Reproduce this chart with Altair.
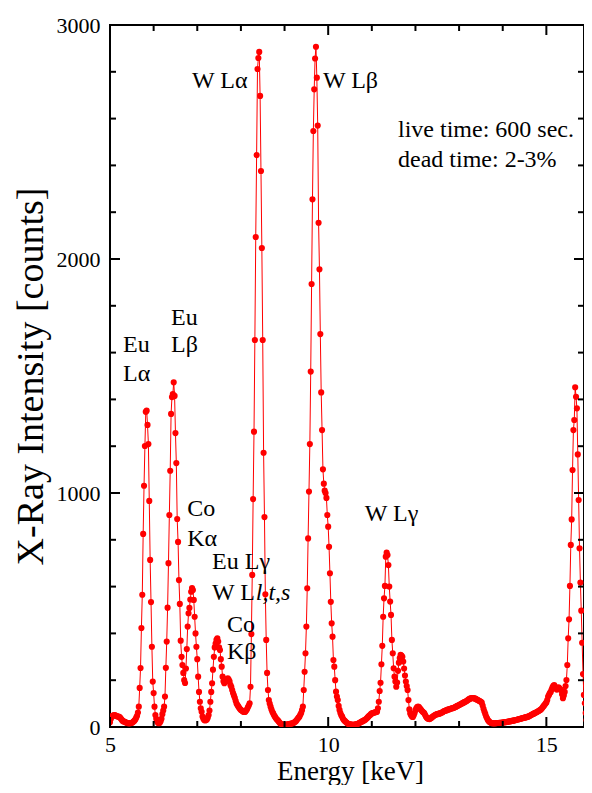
import altair as alt
import pandas as pd

# ---------------- data ----------------
energy_keV = [
    5.00, 5.02, 5.04, 5.06, 5.08, 5.10, 5.12, 5.14, 5.16, 5.18,
    5.20, 5.22, 5.24, 5.26, 5.28, 5.30, 5.32, 5.34, 5.36, 5.38,
    5.40, 5.42, 5.44, 5.46, 5.48, 5.50, 5.52, 5.54, 5.56, 5.58,
    5.60, 5.62, 5.64, 5.66, 5.68, 5.70, 5.72, 5.74, 5.76, 5.78,
    5.80, 5.82, 5.84, 5.86, 5.88, 5.90, 5.92, 5.94, 5.96, 5.98,
    6.00, 6.02, 6.04, 6.06, 6.08, 6.10, 6.12, 6.14, 6.16, 6.18,
    6.20, 6.22, 6.24, 6.26, 6.28, 6.30, 6.32, 6.34, 6.36, 6.38,
    6.40, 6.42, 6.44, 6.46, 6.48, 6.50, 6.52, 6.54, 6.56, 6.58,
    6.60, 6.62, 6.64, 6.66, 6.68, 6.70, 6.72, 6.74, 6.76, 6.78,
    6.80, 6.82, 6.84, 6.86, 6.88, 6.90, 6.92, 6.94, 6.96, 6.98,
    7.00, 7.02, 7.04, 7.06, 7.08, 7.10, 7.12, 7.14, 7.16, 7.18,
    7.20, 7.22, 7.24, 7.26, 7.28, 7.30, 7.32, 7.34, 7.36, 7.38,
    7.40, 7.42, 7.44, 7.46, 7.48, 7.50, 7.52, 7.54, 7.56, 7.58,
    7.60, 7.62, 7.64, 7.66, 7.68, 7.70, 7.72, 7.74, 7.76, 7.78,
    7.80, 7.82, 7.84, 7.86, 7.88, 7.90, 7.92, 7.94, 7.96, 7.98,
    8.00, 8.02, 8.04, 8.06, 8.08, 8.10, 8.12, 8.14, 8.16, 8.18,
    8.20, 8.22, 8.24, 8.26, 8.28, 8.30, 8.32, 8.34, 8.36, 8.38,
    8.40, 8.42, 8.44, 8.46, 8.48, 8.50, 8.52, 8.54, 8.56, 8.58,
    8.60, 8.62, 8.64, 8.66, 8.68, 8.70, 8.72, 8.74, 8.76, 8.78,
    8.80, 8.82, 8.84, 8.86, 8.88, 8.90, 8.92, 8.94, 8.96, 8.98,
    9.00, 9.02, 9.04, 9.06, 9.08, 9.10, 9.12, 9.14, 9.16, 9.18,
    9.20, 9.22, 9.24, 9.26, 9.28, 9.30, 9.32, 9.34, 9.36, 9.38,
    9.40, 9.42, 9.44, 9.46, 9.48, 9.50, 9.52, 9.54, 9.56, 9.58,
    9.60, 9.62, 9.64, 9.66, 9.68, 9.70, 9.72, 9.74, 9.76, 9.78,
    9.80, 9.82, 9.84, 9.86, 9.88, 9.90, 9.92, 9.94, 9.96, 9.98,
    10.00, 10.02, 10.04, 10.06, 10.08, 10.10, 10.12, 10.14, 10.16, 10.18,
    10.20, 10.22, 10.24, 10.26, 10.28, 10.30, 10.32, 10.34, 10.36, 10.38,
    10.40, 10.42, 10.44, 10.46, 10.48, 10.50, 10.52, 10.54, 10.56, 10.58,
    10.60, 10.62, 10.64, 10.66, 10.68, 10.70, 10.72, 10.74, 10.76, 10.78,
    10.80, 10.82, 10.84, 10.86, 10.88, 10.90, 10.92, 10.94, 10.96, 10.98,
    11.00, 11.02, 11.04, 11.06, 11.08, 11.10, 11.12, 11.14, 11.16, 11.18,
    11.20, 11.22, 11.24, 11.26, 11.28, 11.30, 11.32, 11.34, 11.36, 11.38,
    11.40, 11.42, 11.44, 11.46, 11.48, 11.50, 11.52, 11.54, 11.56, 11.58,
    11.60, 11.62, 11.64, 11.66, 11.68, 11.70, 11.72, 11.74, 11.76, 11.78,
    11.80, 11.82, 11.84, 11.86, 11.88, 11.90, 11.92, 11.94, 11.96, 11.98,
    12.00, 12.02, 12.04, 12.06, 12.08, 12.10, 12.12, 12.14, 12.16, 12.18,
    12.20, 12.22, 12.24, 12.26, 12.28, 12.30, 12.32, 12.34, 12.36, 12.38,
    12.40, 12.42, 12.44, 12.46, 12.48, 12.50, 12.52, 12.54, 12.56, 12.58,
    12.60, 12.62, 12.64, 12.66, 12.68, 12.70, 12.72, 12.74, 12.76, 12.78,
    12.80, 12.82, 12.84, 12.86, 12.88, 12.90, 12.92, 12.94, 12.96, 12.98,
    13.00, 13.02, 13.04, 13.06, 13.08, 13.10, 13.12, 13.14, 13.16, 13.18,
    13.20, 13.22, 13.24, 13.26, 13.28, 13.30, 13.32, 13.34, 13.36, 13.38,
    13.40, 13.42, 13.44, 13.46, 13.48, 13.50, 13.52, 13.54, 13.56, 13.58,
    13.60, 13.62, 13.64, 13.66, 13.68, 13.70, 13.72, 13.74, 13.76, 13.78,
    13.80, 13.82, 13.84, 13.86, 13.88, 13.90, 13.92, 13.94, 13.96, 13.98,
    14.00, 14.02, 14.04, 14.06, 14.08, 14.10, 14.12, 14.14, 14.16, 14.18,
    14.20, 14.22, 14.24, 14.26, 14.28, 14.30, 14.32, 14.34, 14.36, 14.38,
    14.40, 14.42, 14.44, 14.46, 14.48, 14.50, 14.52, 14.54, 14.56, 14.58,
    14.60, 14.62, 14.64, 14.66, 14.68, 14.70, 14.72, 14.74, 14.76, 14.78,
    14.80, 14.82, 14.84, 14.86, 14.88, 14.90, 14.92, 14.94, 14.96, 14.98,
    15.00, 15.02, 15.04, 15.06, 15.08, 15.10, 15.12, 15.14, 15.16, 15.18,
    15.20, 15.22, 15.24, 15.26, 15.28, 15.30, 15.32, 15.34, 15.36, 15.38,
    15.40, 15.42, 15.44, 15.46, 15.48, 15.50, 15.52, 15.54, 15.56, 15.58,
    15.60, 15.62, 15.64, 15.66, 15.68, 15.70, 15.72, 15.74, 15.76, 15.78,
    15.80, 15.82, 15.84, 15.86, 15.88, 15.90, 15.92, 15.94, 15.96, 15.98,
    16.00,
]

counts = [
    20, 35, 44, 48, 50, 51, 50, 48, 46, 45,
    44, 42, 38, 33, 28, 25, 23, 22, 20, 18,
    17, 16, 16, 16, 17, 18, 20, 23, 27, 32,
    40, 48, 62, 87, 167, 252, 423, 565, 825, 1031,
    1201, 1347, 1352, 1291, 1209, 966, 714, 534, 343, 194,
    145, 87, 51, 35, 23, 18, 16, 18, 25, 35,
    55, 70, 87, 130, 253, 365, 510, 700, 906, 1095,
    1338, 1410, 1423, 1473, 1415, 1256, 1128, 889, 791, 628,
    526, 369, 300, 265, 231, 200, 188, 250, 333, 429,
    486, 509, 545, 578, 594, 585, 543, 471, 400, 343,
    290, 215, 150, 108, 80, 65, 45, 35, 30, 28,
    30, 32, 40, 51, 70, 108, 150, 187, 245, 300,
    340, 357, 372, 379, 365, 340, 329, 290, 258, 215,
    195, 187, 192, 198, 205, 208, 203, 195, 180, 172,
    158, 145, 135, 125, 112, 100, 94, 88, 82, 77,
    73, 70, 67, 65, 64, 65, 70, 76, 84, 92,
    101, 172, 397, 650, 974, 1262, 1654, 2094, 2444, 2812,
    2859, 2885, 2697, 2376, 2047, 1654, 1172, 897, 567, 372,
    231, 158, 115, 100, 87, 75, 65, 58, 50, 44,
    38, 33, 30, 25, 20, 16, 13, 11, 10, 9,
    9, 9, 10, 10, 11, 12, 13, 14, 15, 16,
    17, 19, 22, 25, 30, 35, 40, 44, 52, 60,
    72, 87, 158, 236, 315, 429, 593, 806, 1006, 1209,
    1519, 1893, 2255, 2547, 2725, 2857, 2907, 2775, 2570, 2155,
    1956, 1679, 1430, 1269, 1101, 1040, 1010, 1000, 979, 906,
    856, 770, 657, 535, 443, 386, 286, 258, 200, 151,
    130, 115, 90, 73, 60, 50, 44, 35, 30, 26,
    22, 19, 16, 14, 12, 11, 10, 10, 9, 9,
    10, 10, 11, 12, 14, 16, 18, 20, 22, 24,
    26, 28, 30, 33, 36, 40, 44, 48, 51, 55,
    58, 60, 61, 62, 63, 64, 65, 80, 108, 154,
    189, 268, 347, 471, 550, 603, 728, 745, 735, 692,
    600, 536, 479, 372, 315, 251, 215, 194, 172, 190,
    240, 275, 295, 308, 305, 300, 280, 250, 220, 194,
    175, 158, 115, 75, 58, 50, 45, 43, 50, 60,
    72, 80, 85, 87, 85, 80, 75, 70, 66, 63,
    60, 52, 45, 40, 36, 35, 34, 36, 38, 42,
    45, 48, 50, 52, 54, 55, 56, 57, 58, 60,
    62, 63, 66, 68, 69, 71, 72, 74, 75, 76,
    78, 79, 80, 81, 82, 84, 86, 88, 90, 92,
    94, 96, 98, 100, 102, 104, 106, 108, 110, 112,
    115, 118, 120, 122, 123, 124, 124, 123, 122, 120,
    118, 116, 114, 112, 110, 108, 104, 92, 78, 66,
    56, 45, 37, 30, 25, 21, 19, 17, 16, 16,
    16, 16, 16, 17, 17, 17, 18, 18, 18, 19,
    19, 20, 20, 21, 21, 22, 23, 23, 24, 25,
    26, 26, 27, 28, 29, 30, 31, 32, 33, 34,
    35, 36, 37, 38, 39, 40, 41, 42, 43, 44,
    46, 48, 50, 52, 54, 56, 58, 60, 62, 64,
    66, 68, 70, 73, 76, 80, 85, 90, 95, 100,
    105, 115, 130, 137, 145, 150, 160, 170, 176, 179,
    172, 165, 160, 165, 170, 165, 160, 158, 140, 123,
    135, 150, 175, 201, 265, 379, 460, 603, 778, 887,
    1098, 1269, 1312, 1452, 1411, 1362, 1165, 970, 764, 617,
    497, 360, 226, 137, 101, 60, 30, 22, 20, 20,
    20,
]

# tick positions
x_major_ticks = [5, 10, 15]
x_minor_ticks = [6, 7, 8, 9, 11, 12, 13, 14, 16]
y_major_ticks = [0, 1000, 2000, 3000]
y_minor_ticks = [200, 400, 600, 800, 1200, 1400, 1600, 1800,
                 2200, 2400, 2600, 2800]

# annotations (text, anchor energy, anchor counts)
ann_text = ["W L\u03b1", "W L\u03b2", "live time: 600 sec.", "dead time: 2-3%",
            "Eu", "L\u03b1", "Eu", "L\u03b2", "Co", "K\u03b1",
            "Eu L\u03b3", "W L", "Co", "K\u03b2", "W L\u03b3"]
ann_x = [6.88, 9.88, 11.60, 11.60,
         5.30, 5.30, 6.40, 6.40, 6.77, 6.77,
         7.34, 7.34, 7.68, 7.68, 10.84]
ann_y = [2731, 2731, 2521, 2393,
         1603, 1479, 1718, 1603, 902, 774,
         675, 543, 406, 291, 880]
ital_text = ["l,t,s"]
ital_x = [8.34]
ital_y = [543]

# ---------------- chart ----------------
FONT = "Liberation Serif"
PX_PER_KEV = 480 / 11.0          # reference scale: 5 -> 16 keV over 480 px
W, H = 474, 702                  # page is 592 px wide; right 6 px strip of the reference is cut
X_MAX = 5 + W / PX_PER_KEV
RED = "#ff0000"
xs = alt.Scale(domain=[5, X_MAX], nice=False, zero=False)
ys = alt.Scale(domain=[0, 3000], nice=False, zero=False)

df = pd.DataFrame({"E": energy_keV, "C": counts})

x_axis = alt.Axis(values=x_major_ticks, title="Energy [keV]", grid=False, ticks=False,
                  tickSize=0, domain=False, format="d", labelFont=FONT,
                  labelFontSize=22, labelColor="black", labelPadding=7,
                  labelFlush=False, titleFont=FONT, titleFontSize=27,
                  titleFontWeight="normal", titleColor="black",
                  titleBaseline="alphabetic", titleY=52, titleX=240)
y_axis = alt.Axis(values=y_major_ticks, title="X-Ray Intensity [counts]", grid=False,
                  ticks=False, tickSize=0, domain=False, format="d", labelFont=FONT,
                  labelFontSize=22, labelColor="black", labelPadding=10,
                  labelFlush=False, titleFont=FONT, titleFontSize=38,
                  titleFontWeight="normal", titleColor="black",
                  titleBaseline="alphabetic", titleX=-68, titleY=351)

XE = alt.X("E:Q", scale=xs, axis=x_axis)
YC = alt.Y("C:Q", scale=ys, axis=y_axis)

line = alt.Chart(df).mark_line(color=RED, strokeWidth=1, clip=True).encode(x=XE, y=YC)
pts = alt.Chart(df).mark_circle(color=RED, size=38, opacity=1, clip=True).encode(x=XE, y=YC)


def xticks(vals, length, top):
    d = pd.DataFrame({"E": vals})
    y0 = 0 if top else H
    y1 = length if top else H - length
    return alt.Chart(d).mark_rule(color="black", strokeWidth=2, clip=True).encode(
        x=XE, y=alt.value(y0), y2=alt.value(y1))


def yticks(vals, length, right):
    d = pd.DataFrame({"C": vals})
    x0 = W if right else 0
    x1 = W - length if right else length
    return alt.Chart(d).mark_rule(color="black", strokeWidth=2).encode(
        y=YC, x=alt.value(x0), x2=alt.value(x1))


tick_layers = [
    xticks(x_major_ticks, 10, False), xticks(x_minor_ticks, 6, False),
    xticks(x_major_ticks, 10, True), xticks(x_minor_ticks, 6, True),
    yticks(y_major_ticks, 10, False), yticks(y_minor_ticks, 6, False),
    yticks(y_major_ticks, 10, True), yticks(y_minor_ticks, 6, True),
]

ann_df = pd.DataFrame({"t": ann_text, "E": ann_x, "C": ann_y})
ann = alt.Chart(ann_df).mark_text(font=FONT, fontSize=24, color="black",
                                  align="left", baseline="alphabetic").encode(
    x=XE, y=YC, text="t:N")
ital_df = pd.DataFrame({"t": ital_text, "E": ital_x, "C": ital_y})
ital = alt.Chart(ital_df).mark_text(font=FONT, fontSize=24, color="black",
                                    fontStyle="italic", align="left",
                                    baseline="alphabetic").encode(
    x=XE, y=YC, text="t:N")

chart = alt.layer(line, pts, *tick_layers, ann, ital).properties(
    width=W, height=H,
    autosize=alt.AutoSizeParams(type="none"),
    padding={"left": 102, "top": 17, "right": 0, "bottom": 58},
    background="white",
).configure_view(stroke="black", strokeWidth=2)

chart.save("out.html", embed_options={"renderer": "svg", "actions": False})
